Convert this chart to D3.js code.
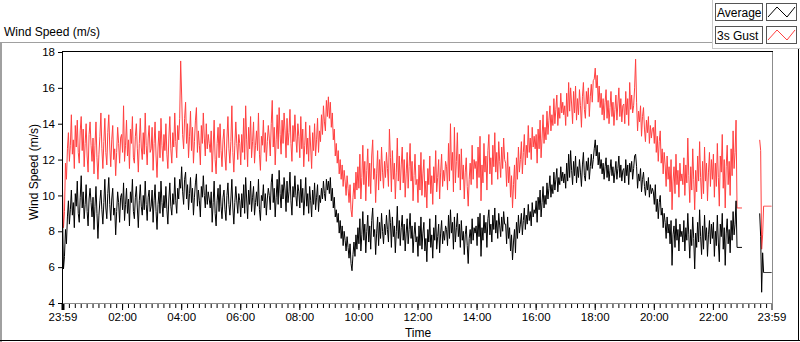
<!DOCTYPE html>
<html>
<head>
<meta charset="utf-8">
<script src="https://cdn.jsdelivr.net/npm/d3@7"></script>
<style>
  body { margin: 0; background: #fff; }
  svg { display: block; font-family: "Liberation Sans", Arial, sans-serif; }
</style>
</head>
<body>
<div id="chart"></div>
<script>
const WIDTH = 800;
const HEIGHT = 342;

// data: one sample every 2 minutes, starting 23:59 the day before (one row per hour)
const startTime = new Date(2024, 0, 1, 23, 59);
const endTime = new Date(2024, 0, 2, 23, 59);
const stepMinutes = 2;

const seriesNames = ["Average", "3s Gust"];
const seriesColors = ["#000000", "#ff4040"];
const yTicks = [4, 6, 8, 10, 12, 14, 16, 18];
const xTickHours = [2, 4, 6, 8, 10, 12, 14, 16, 18, 20, 22];

const avgSpeed = [
  9.0, 5.9, 6.6, 8.1, 7.3, 8.8, 9.7, 8.4, 9.2, 10.3, 8.9, 9.6, 8.2, 10.1, 9.4, 10.8, 9.0, 8.5, 9.9, 11.1, 9.3, 10.2, 8.7, 9.5, 10.6, 9.1, 8.3, 9.8, 10.4, 9.6,
  8.8, 9.9, 8.1, 9.4, 10.5, 9.0, 7.6, 8.9, 9.7, 10.3, 9.2, 8.4, 9.6, 10.9, 9.3, 8.7, 10.1, 11.0, 9.5, 8.6, 9.8, 10.4, 8.9, 9.3, 7.8, 9.1, 10.2, 9.6, 8.5, 9.9,
  10.1, 9.2, 10.7, 8.6, 9.5, 10.4, 9.0, 9.8, 8.3, 10.2, 9.6, 10.9, 9.1, 8.7, 9.9, 10.5, 9.3, 8.2, 9.7, 10.6, 9.4, 8.9, 10.0, 9.2, 10.8, 9.5, 8.6, 9.9, 10.3, 9.1,
  9.4, 10.3, 8.5, 9.7, 10.6, 9.1, 8.1, 9.5, 10.2, 9.0, 10.8, 9.6, 8.8, 10.0, 9.3, 10.5, 9.2, 8.4, 9.8, 10.7, 9.4, 8.9, 10.1, 9.5, 11.0, 9.7, 9.0, 10.4, 9.8, 10.9,
  10.4, 11.6, 10.2, 9.5, 10.9, 11.3, 9.8, 10.6, 9.2, 10.1, 11.0, 9.6, 10.4, 8.9, 9.9, 10.7, 11.2, 9.4, 10.3, 9.7, 8.8, 10.5, 9.9, 11.1, 10.0, 9.3, 10.6, 9.5, 10.2, 9.8,
  9.3, 10.2, 8.5, 9.6, 10.8, 9.0, 8.3, 9.7, 10.4, 9.1, 10.6, 9.4, 8.7, 9.9, 10.3, 9.2, 8.6, 10.0, 10.7, 9.5, 8.9, 9.8, 10.9, 9.3, 8.4, 9.6, 10.5, 9.7, 9.0, 10.1,
  9.7, 8.8, 10.1, 9.3, 10.6, 9.0, 11.0, 9.8, 8.7, 10.3, 9.5, 10.8, 9.1, 9.9, 10.5, 8.9, 9.6, 10.2, 9.4, 10.9, 9.2, 8.6, 10.0, 9.7, 10.6, 9.3, 10.1, 8.9, 9.8, 10.4,
  10.0, 9.2, 10.7, 11.2, 9.6, 10.4, 8.8, 9.9, 10.9, 9.5, 11.4, 10.1, 9.3, 10.6, 9.8, 11.0, 10.3, 9.1, 10.8, 9.6, 10.2, 11.3, 9.7, 8.9, 10.5, 9.9, 11.1, 10.0, 9.4, 10.6,
  10.2, 9.3, 10.9, 9.6, 10.4, 8.9, 9.8, 11.0, 9.4, 10.1, 9.0, 10.5, 9.7, 8.8, 10.3, 9.5, 10.7, 9.2, 9.9, 10.6, 9.1, 10.0, 9.6, 10.4, 9.8, 10.8, 10.1, 9.7, 10.9, 10.3,
  10.8, 10.1, 11.0, 9.7, 10.4, 9.3, 9.9, 8.8, 9.2, 8.5, 9.0, 7.9, 8.6, 7.6, 8.3, 7.2, 8.0, 7.5, 6.9, 7.7, 7.1, 6.5, 7.3, 6.2, 5.8, 6.7, 7.4, 6.6, 7.8, 7.0,
  8.2, 7.3, 8.7, 6.9, 7.8, 9.1, 7.5, 8.4, 6.8, 8.0, 8.9, 7.4, 8.3, 7.0, 8.6, 9.3, 7.7, 8.1, 6.7, 7.9, 8.8, 7.2, 8.5, 7.6, 9.0, 8.0, 7.3, 8.4, 7.8, 8.9,
  8.1, 7.4, 9.2, 8.5, 7.1, 8.8, 7.7, 8.3, 6.8, 8.0, 9.4, 7.6, 8.6, 7.2, 8.2, 8.9, 7.5, 8.4, 6.9, 7.9, 8.7, 7.3, 8.1, 9.0, 7.6, 8.3, 6.8, 7.8, 8.5, 7.4,
  7.7, 6.6, 8.3, 7.2, 8.8, 7.0, 7.9, 8.5, 6.9, 7.6, 6.3, 8.1, 7.4, 8.7, 7.1, 7.8, 6.5, 8.2, 7.5, 8.9, 7.0, 7.7, 8.4, 6.8, 7.9, 8.6, 7.3, 8.0, 7.5, 8.3,
  8.1, 7.2, 8.9, 7.6, 9.2, 7.9, 8.5, 7.0, 8.8, 7.4, 8.2, 9.0, 7.7, 8.4, 7.1, 8.6, 7.5, 8.0, 6.7, 7.8, 8.3, 7.2, 6.2, 7.6, 8.1, 7.3, 8.7, 7.5, 8.2, 7.9,
  8.3, 7.2, 8.8, 7.7, 9.0, 6.6, 8.2, 7.5, 8.9, 7.9, 8.5, 7.1, 8.7, 9.2, 7.8, 8.4, 7.4, 8.9, 8.1, 9.3, 7.9, 8.6, 7.6, 9.0, 8.3, 7.7, 8.8, 8.0, 9.1, 8.4,
  8.4, 7.3, 8.8, 7.6, 8.2, 6.9, 7.8, 6.4, 7.4, 8.1, 6.8, 8.5, 7.6, 8.9, 7.9, 8.4, 9.0, 7.8, 8.6, 9.3, 8.1, 8.9, 8.4, 9.5, 8.6, 9.1, 8.3, 9.6, 8.8, 9.2,
  9.0, 9.7, 8.5, 9.9, 9.2, 10.3, 8.8, 9.6, 10.5, 9.3, 10.0, 9.5, 10.7, 9.8, 10.4, 11.1, 9.9, 10.6, 10.1, 11.3, 10.3, 10.9, 11.5, 10.2, 11.0, 10.6, 11.6, 10.8, 11.3, 10.7,
  11.2, 10.4, 11.8, 10.8, 12.3, 11.0, 12.5, 11.4, 10.6, 11.9, 11.1, 12.2, 10.7, 11.6, 11.0, 12.0, 11.3, 10.5, 11.7, 12.4, 11.1, 10.8, 11.9, 11.4, 12.1, 10.9, 11.6, 12.3, 11.5, 12.0,
  12.6, 13.1, 12.2, 12.8, 11.7, 12.4, 11.5, 12.0, 11.2, 11.8, 10.9, 11.6, 12.1, 11.0, 11.7, 10.8, 11.4, 12.0, 11.1, 11.6, 10.7, 11.3, 11.9, 10.9, 11.5, 12.2, 11.0, 11.7, 10.8, 11.4,
  11.5, 10.7, 12.0, 11.1, 11.7, 10.6, 11.8, 11.3, 11.9, 10.9, 11.5, 12.2, 12.3, 11.6, 10.4, 11.2, 10.8, 11.5, 10.2, 10.9, 11.3, 10.5, 10.0, 10.8, 10.3, 11.0, 9.9, 10.6, 10.1, 10.4,
  10.2, 9.5, 10.6, 9.1, 9.8, 8.7, 9.6, 10.0, 8.9, 9.3, 8.2, 9.0, 8.5, 7.6, 8.8, 7.9, 8.4, 7.3, 8.6, 6.1, 7.8, 8.3, 7.1, 8.7, 7.5, 8.1, 6.9, 8.4, 7.7, 8.0,
  7.4, 8.6, 6.9, 8.2, 7.5, 9.0, 7.8, 6.5, 8.1, 7.2, 8.8, 7.6, 5.9, 7.9, 7.1, 8.5, 7.4, 9.2, 7.7, 6.7, 8.3, 7.0, 8.9, 7.5, 8.2, 6.6, 7.8, 8.6, 7.3, 8.4,
  7.6, 8.5, 6.6, 8.0, 7.2, 8.9, 7.4, 6.3, 8.4, 7.7, 9.0, 7.0, 8.2, 6.1, 7.9, 8.7, 7.3, 8.1, 6.8, 8.6, 7.5, 9.1, 7.8, 8.4, 9.7, 7.1, 7.1, 7.1, 7.1, 7.1,
  7.1, null, null, null, null, null, null, null, null, null, null, null, null, null, null, null, null, null, 9.0, 7.7, 4.6, 6.8, 5.7, 5.7, 5.7, 5.7, 5.7, 5.7, 5.7, 5.7, 5.7
];

const gustSpeed = [
  10.4, 8.2, 9.1, 11.8, 10.9, 12.6, 13.5, 11.9, 12.8, 14.5, 12.3, 13.1, 11.5, 13.9, 12.7, 14.2, 12.4, 11.8, 13.6, 14.4, 12.5, 13.7, 11.6, 12.9, 14.0, 12.2, 11.3, 13.4, 14.1, 12.8,
  11.9, 13.2, 11.2, 12.8, 14.1, 12.1, 10.9, 12.3, 13.3, 14.6, 12.6, 11.5, 13.0, 14.3, 12.4, 11.7, 13.5, 14.5, 12.7, 11.6, 13.1, 13.9, 12.0, 12.6, 11.1, 12.4, 13.8, 12.9, 11.8, 13.2,
  13.4, 12.4, 15.0, 11.9, 12.8, 14.2, 12.2, 13.1, 11.5, 13.7, 12.9, 14.4, 12.1, 11.8, 13.3, 14.0, 12.6, 11.3, 12.9, 14.3, 12.7, 12.0, 13.5, 12.3, 14.6, 12.8, 11.7, 13.2, 13.9, 12.4,
  12.6, 13.8, 11.4, 12.9, 14.1, 12.2, 11.0, 12.7, 13.6, 12.1, 14.3, 12.8, 11.9, 13.4, 12.5, 14.0, 12.3, 11.5, 13.2, 14.4, 12.6, 11.8, 13.5, 12.7, 14.6, 13.0, 12.1, 13.9, 13.1, 14.3,
  17.5, 15.6, 13.4, 12.6, 14.3, 15.2, 12.9, 14.0, 12.1, 13.3, 14.7, 12.5, 13.8, 11.8, 13.0, 14.2, 14.9, 12.4, 13.6, 12.8, 11.7, 13.9, 12.9, 14.6, 13.2, 12.2, 14.0, 12.6, 13.4, 12.9,
  12.4, 13.6, 11.3, 12.7, 14.2, 12.0, 11.2, 12.9, 13.8, 12.1, 14.0, 12.5, 11.6, 13.1, 13.7, 12.2, 11.4, 13.2, 14.4, 12.6, 11.8, 13.0, 15.0, 12.4, 11.3, 12.8, 14.1, 12.9, 12.0, 13.4,
  12.9, 11.7, 13.4, 12.4, 14.3, 12.0, 15.0, 13.1, 11.6, 13.8, 12.6, 14.4, 12.1, 13.0, 14.1, 11.8, 12.8, 13.6, 12.5, 14.6, 12.3, 11.4, 13.3, 12.8, 14.2, 12.4, 13.5, 11.9, 13.0, 13.9,
  13.2, 12.2, 14.0, 15.3, 12.7, 13.8, 11.7, 13.1, 14.5, 12.6, 14.9, 13.4, 12.3, 14.2, 12.9, 14.6, 13.6, 12.1, 14.3, 12.8, 13.5, 14.8, 12.9, 11.9, 13.9, 13.0, 14.5, 13.2, 12.4, 14.0,
  13.3, 12.1, 14.4, 12.6, 13.7, 11.6, 12.8, 14.1, 12.3, 13.2, 11.9, 13.9, 12.7, 11.5, 13.5, 12.5, 14.0, 12.2, 13.1, 14.3, 12.4, 13.6, 13.0, 14.5, 13.4, 15.0, 14.1, 13.6, 15.3, 14.4,
  15.5, 14.3, 15.2, 13.8, 14.6, 13.1, 13.7, 12.2, 12.9, 11.8, 12.5, 11.2, 12.0, 10.9, 11.7, 10.5, 11.4, 10.8, 10.0, 11.1, 10.4, 9.6, 10.6, 9.2, 8.8, 9.9, 10.7, 9.8, 11.3, 10.3,
  11.6, 10.4, 12.3, 9.8, 11.0, 12.8, 10.6, 11.9, 9.7, 11.4, 12.6, 10.5, 11.8, 10.1, 12.2, 13.1, 10.9, 11.5, 9.6, 11.2, 12.5, 10.3, 12.0, 10.8, 12.7, 11.3, 10.4, 11.9, 11.0, 12.4,
  11.5, 10.5, 13.7, 12.1, 10.2, 12.5, 10.9, 11.8, 9.8, 11.3, 13.2, 10.8, 12.2, 10.3, 11.7, 12.7, 10.7, 12.0, 9.9, 11.2, 12.4, 10.4, 11.6, 12.9, 10.8, 11.9, 9.7, 11.1, 12.3, 10.6,
  10.9, 9.6, 11.7, 10.3, 12.4, 10.0, 11.2, 12.0, 9.9, 10.8, 9.3, 11.5, 10.6, 12.2, 10.1, 11.1, 9.5, 11.6, 10.7, 12.5, 10.2, 11.0, 12.0, 9.8, 11.3, 12.3, 10.5, 11.4, 10.8, 11.9,
  11.6, 10.3, 12.9, 10.8, 14.0, 11.4, 12.4, 10.2, 13.8, 10.7, 11.9, 13.5, 11.0, 12.3, 10.3, 12.6, 10.9, 11.7, 9.8, 11.3, 12.1, 10.5, 9.4, 10.9, 11.8, 10.6, 12.8, 10.9, 12.0, 11.5,
  11.9, 10.4, 12.7, 11.0, 13.3, 9.7, 11.7, 10.7, 12.9, 11.3, 12.2, 10.3, 12.5, 13.4, 11.2, 12.1, 10.6, 12.8, 11.6, 13.5, 11.3, 12.4, 10.9, 13.0, 11.9, 11.0, 12.7, 11.5, 13.2, 12.0,
  11.8, 10.5, 12.4, 10.7, 11.6, 9.9, 11.1, 9.3, 10.6, 11.7, 9.8, 12.1, 10.9, 12.7, 11.3, 12.0, 13.0, 11.2, 12.4, 13.4, 11.7, 12.8, 12.1, 13.9, 12.4, 13.2, 12.0, 13.8, 12.7, 13.3,
  12.6, 13.4, 11.8, 13.7, 12.6, 14.2, 12.1, 13.2, 14.5, 12.9, 13.8, 13.1, 14.7, 13.4, 14.2, 15.0, 13.6, 14.5, 13.9, 15.4, 14.0, 14.8, 15.6, 13.9, 14.9, 14.3, 15.7, 14.6, 15.2, 14.5,
  15.0, 13.9, 15.7, 14.4, 16.3, 14.7, 16.0, 15.1, 14.0, 15.8, 14.6, 16.1, 14.2, 15.4, 14.5, 15.9, 15.0, 13.8, 15.5, 16.3, 14.8, 14.3, 15.8, 15.1, 16.0, 14.4, 15.5, 16.2, 15.2, 16.4,
  16.5, 17.1, 16.0, 16.7, 15.2, 16.1, 14.9, 15.7, 14.5, 15.4, 14.2, 15.2, 15.9, 14.3, 15.3, 14.0, 14.9, 15.8, 14.4, 15.2, 13.9, 14.8, 15.6, 14.2, 15.1, 16.0, 14.4, 15.4, 14.1, 15.0,
  15.1, 14.0, 15.8, 14.5, 15.4, 13.9, 16.3, 14.8, 15.6, 14.6, 15.0, 16.0, 17.6, 15.2, 13.6, 14.7, 14.1, 15.0, 13.3, 14.4, 14.9, 13.7, 13.0, 14.2, 13.5, 14.4, 12.9, 13.9, 13.2, 13.7,
  13.8, 12.9, 14.2, 12.4, 13.3, 11.9, 13.0, 13.6, 11.8, 12.6, 11.2, 12.4, 11.7, 10.5, 12.2, 10.9, 11.6, 10.2, 12.0, 9.2, 10.8, 11.6, 10.1, 12.3, 10.6, 11.4, 9.9, 11.8, 10.8, 11.2,
  10.6, 12.1, 10.0, 11.7, 10.7, 13.2, 11.1, 9.6, 11.6, 10.3, 12.6, 10.9, 9.2, 11.4, 10.2, 12.2, 10.8, 13.0, 11.0, 9.8, 11.9, 10.1, 12.7, 10.8, 11.8, 9.7, 11.3, 12.4, 10.5, 12.0,
  10.9, 12.3, 9.9, 11.8, 10.5, 12.9, 11.0, 9.4, 12.2, 11.3, 13.4, 10.4, 12.0, 9.3, 11.6, 12.8, 10.6, 11.9, 10.0, 12.6, 11.1, 13.6, 11.5, 12.4, 14.2, 9.3, 9.3, 9.3, 9.3, 9.3,
  9.3, null, null, null, null, null, null, null, null, null, null, null, null, null, null, null, null, null, 13.1, 12.5, 7.0, 7.8, 9.4, 9.4, 9.4, 9.4, 9.4, 9.4, 9.4, 9.4, 9.4
];

const times = avgSpeed.map((d, i) => d3.timeMinute.offset(startTime, i * stepMinutes));

// layout
const plot = { left: 62, right: 772, top: 52, bottom: 303 };

const svg = d3.select("#chart").append("svg")
  .attr("xmlns", "http://www.w3.org/2000/svg")
  .attr("width", WIDTH)
  .attr("height", HEIGHT);

const x = d3.scaleTime()
  .domain([startTime, endTime])
  .range([plot.left + 0.5, plot.right - 0.5]);

const y = d3.scaleLinear()
  .domain([4, 18])
  .range([plot.bottom, plot.top]);

// outer frame
const frame = svg.append("g").attr("shape-rendering", "crispEdges");
frame.append("line").attr("x1", 0).attr("x2", 712).attr("y1", 42.5).attr("y2", 42.5).attr("stroke", "#a0a0a0");
frame.append("line").attr("x1", 712.5).attr("x2", 712.5).attr("y1", 0).attr("y2", 49).attr("stroke", "#c8c8c8");
frame.append("line").attr("x1", 712).attr("x2", 800).attr("y1", 48.5).attr("y2", 48.5).attr("stroke", "#c8c8c8");
frame.append("line").attr("x1", 1).attr("x2", 1).attr("y1", 42).attr("y2", 342).attr("stroke", "#a0a0a0").attr("stroke-width", 2);
frame.append("line").attr("x1", 0).attr("x2", 800).attr("y1", 340.5).attr("y2", 340.5).attr("stroke", "#000");
frame.append("line").attr("x1", 798.5).attr("x2", 798.5).attr("y1", 49).attr("y2", 341).attr("stroke", "#000");

svg.append("text")
  .attr("x", 4)
  .attr("y", 36)
  .style("font-size", "12px")
  .text("Wind Speed (m/s)");

// legend
const legend = svg.append("g").attr("class", "legend");
const zig = d3.line();
seriesNames.forEach((name, i) => {
  const top = 3 + i * 23;
  const row = legend.append("g").attr("transform", `translate(0, ${top})`);
  row.append("rect")
    .attr("x", 715.5).attr("y", 0.5)
    .attr("width", 47).attr("height", 17)
    .attr("fill", "#fff").attr("stroke", "#555")
    .attr("shape-rendering", "crispEdges");
  row.append("text")
    .attr("x", 717)
    .attr("y", 14)
    .style("font-size", "12px")
    .text(name);
  row.append("rect")
    .attr("x", 766.5).attr("y", 0.5)
    .attr("width", 30).attr("height", 17)
    .attr("fill", "#fff").attr("stroke", "#555")
    .attr("shape-rendering", "crispEdges");
  row.append("path")
    .attr("d", zig([[768, 14], [777, 4], [787, 14], [795, 4]]))
    .attr("fill", "none")
    .attr("stroke", seriesColors[i]);
});

// data lines
svg.append("clipPath").attr("id", "plotclip")
  .append("rect")
  .attr("x", plot.left).attr("y", plot.top)
  .attr("width", plot.right - plot.left).attr("height", plot.bottom - plot.top);

const line = d3.line()
  .defined(d => d[1] != null)
  .x(d => x(d[0]))
  .y(d => y(d[1]));

const series = [avgSpeed, gustSpeed];
const lines = svg.append("g").attr("clip-path", "url(#plotclip)");
[1, 0].forEach(k => {
  lines.append("path")
    .datum(times.map((t, i) => [t, series[k][i]]))
    .attr("fill", "none")
    .attr("stroke", seriesColors[k])
    .attr("stroke-width", 1)
    .attr("d", line);
});

// plot border
const border = svg.append("g").attr("shape-rendering", "crispEdges");
border.append("line").attr("x1", plot.left).attr("x2", plot.right + 1).attr("y1", plot.top - 0.5).attr("y2", plot.top - 0.5).attr("stroke", "#000");
border.append("line").attr("x1", plot.right + 0.5).attr("x2", plot.right + 0.5).attr("y1", plot.top).attr("y2", plot.bottom + 1).attr("stroke", "#8c8c8c");
border.append("line").attr("x1", plot.left).attr("x2", plot.right + 1).attr("y1", plot.bottom + 0.5).attr("y2", plot.bottom + 0.5).attr("stroke", "#8c8c8c");
border.append("line").attr("x1", plot.left + 0.5).attr("x2", plot.left + 0.5).attr("y1", plot.top - 1).attr("y2", plot.bottom + 1).attr("stroke", "#000");

// y axis
const yAxis = svg.append("g")
  .attr("transform", `translate(${plot.left}, 0)`)
  .call(d3.axisLeft(y).tickValues(yTicks).tickSize(4).tickPadding(3));
yAxis.select(".domain").remove();
yAxis.selectAll("text").style("font-size", "11.5px").attr("fill", "#000");
yAxis.selectAll("line").attr("stroke", "#000");

svg.append("text")
  .attr("transform", "translate(38, 172) rotate(-90)")
  .attr("text-anchor", "middle")
  .style("font-size", "12px")
  .text("Wind Speed (m/s)");

// x axis: minor ticks every 12 minutes, labelled ticks every 2 hours
const majorTicks = [startTime, ...xTickHours.map(h => new Date(2024, 0, 2, h, 0)), endTime];
const minorTicks = d3.timeMinute.every(12).range(startTime, endTime);

const xMinor = svg.append("g")
  .attr("transform", `translate(0, ${plot.bottom + 1})`)
  .call(d3.axisBottom(x).tickValues(minorTicks).tickSize(4).tickFormat(""));
xMinor.select(".domain").remove();
xMinor.selectAll("line").attr("stroke", "#000");

const xMajor = svg.append("g")
  .attr("transform", `translate(0, ${plot.bottom + 1})`)
  .call(d3.axisBottom(x).tickValues(majorTicks).tickSize(6).tickPadding(3)
    .tickFormat(d3.timeFormat("%H:%M")));
xMajor.select(".domain").remove();
xMajor.selectAll("line").attr("stroke", "#000");
xMajor.select(".tick line").attr("stroke-width", 3);
xMajor.selectAll("text").style("font-size", "11.5px").attr("fill", "#000");

svg.append("text")
  .attr("x", (plot.left + plot.right) / 2 + 1)
  .attr("y", 337)
  .attr("text-anchor", "middle")
  .style("font-size", "12px")
  .text("Time");
</script>
</body>
</html>
